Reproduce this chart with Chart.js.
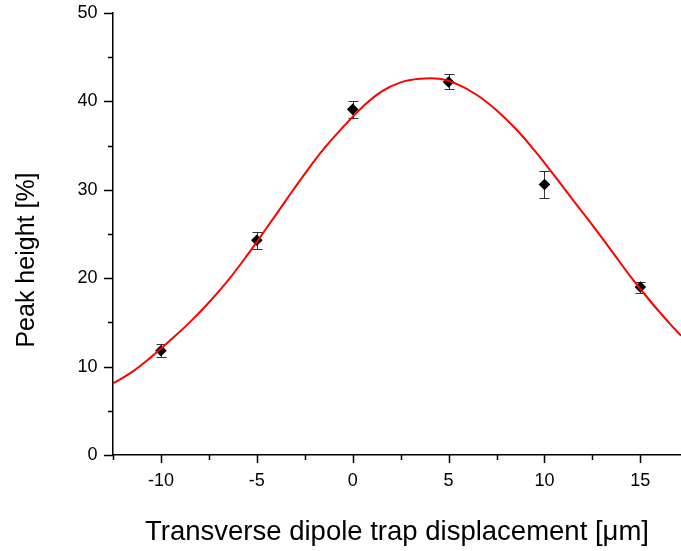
<!DOCTYPE html>
<html>
<head>
<meta charset="utf-8">
<script src="https://cdn.jsdelivr.net/npm/chart.js@4.4.1/dist/chart.umd.min.js"></script>
<style>
  html, body { margin: 0; padding: 0; background: #ffffff; }
  #wrap { position: relative; width: 681px; height: 551px; overflow: hidden; }
</style>
</head>
<body>
<div id="wrap"><canvas id="c"></canvas></div>
<script>
// Measured data points (displacement in µm, peak height in %)
const displacements = [-10, -5, 0, 5, 10, 15];
const peakHeights   = [11.8, 24.3, 39.1, 42.2, 30.6, 19.0];
const peakErrors    = [0.75, 0.95, 0.93, 0.85, 1.5, 0.62];

// Fitted curve at regular displacements
const fitX = [-12.5, -11.5, -10.5, -9.5, -8.5, -7.5, -6.5, -5.5, -4.5, -3.5, -2.5, -1.5, -0.5, 0.5, 1.5, 2.5, 3.5, 4.5, 5.5, 6.5, 7.5, 8.5, 9.5, 10.5, 11.5, 12.5, 13.5, 14.5, 15.5, 16.5, 17.12];
const fitY = [8.1, 9.4, 11.1, 13.0, 15.0, 17.25, 19.75, 22.6, 25.65, 28.75, 31.8, 34.65, 37.1, 39.35, 41.1, 42.15, 42.55, 42.55, 41.9, 40.7, 39.0, 36.9, 34.4, 31.65, 28.8, 26.0, 23.1, 20.15, 17.45, 14.95, 13.5];

// Tick labels
const xTickLabels = [-10, -5, 0, 5, 10, 15];
const yTickLabels = [0, 10, 20, 30, 40, 50];

const xTitle = 'Transverse dipole trap displacement [\u03bcm]';
const yTitle = 'Peak height [%]';

const FONT = "'Liberation Sans', Arial, Helvetica, sans-serif";

const scatterData = displacements.map((x, i) => ({ x: x, y: peakHeights[i], e: peakErrors[i] }));
const fitData = fitX.map((x, i) => ({ x: x, y: fitY[i] }));

const near = (v, arr) => arr.some(a => Math.abs(a - v) < 1e-6);
const isStep = (v, s) => Math.abs(v / s - Math.round(v / s)) < 1e-6;

const errorBars = {
  id: 'errorBars',
  beforeDatasetsDraw(chart) {
    const ctx = chart.ctx, xs = chart.scales.x, ys = chart.scales.y;
    ctx.save();
    ctx.strokeStyle = '#333333';
    ctx.lineWidth = 1;
    scatterData.forEach(p => {
      const px = Math.round(xs.getPixelForValue(p.x)) + 0.5;
      const top = Math.round(ys.getPixelForValue(p.y + p.e)) + 0.5;
      const bot = Math.round(ys.getPixelForValue(p.y - p.e)) + 0.5;
      ctx.beginPath();
      ctx.moveTo(px, top); ctx.lineTo(px, bot);
      ctx.moveTo(px - 5, top); ctx.lineTo(px + 5, top);
      ctx.moveTo(px - 5, bot); ctx.lineTo(px + 5, bot);
      ctx.stroke();
    });
    ctx.restore();
  }
};

const tickMarks = {
  id: 'tickMarks',
  afterDraw(chart) {
    const ctx = chart.ctx, xs = chart.scales.x, ys = chart.scales.y;
    const area = chart.chartArea;
    ctx.save();
    ctx.strokeStyle = '#000000';
    ctx.lineWidth = 1.5;
    ctx.beginPath();
    xs.ticks.forEach(t => {
      if (!isStep(t.value, 2.5)) return;
      const px = Math.round(xs.getPixelForValue(t.value)) + 0.5;
      const len = near(t.value, xTickLabels) ? 8 : 5;
      ctx.moveTo(px, area.bottom); ctx.lineTo(px, area.bottom + len);
    });
    ys.ticks.forEach(t => {
      if (!isStep(t.value, 5)) return;
      const py = Math.round(ys.getPixelForValue(t.value)) + 0.5;
      const len = near(t.value, yTickLabels) ? 9 : 5;
      ctx.moveTo(area.left, py); ctx.lineTo(area.left - len, py);
    });
    ctx.stroke();
    // y axis title
    ctx.fillStyle = '#000000';
    ctx.font = '25px ' + FONT;
    ctx.textAlign = 'center';
    ctx.textBaseline = 'alphabetic';
    ctx.translate(34, 260);
    ctx.rotate(-Math.PI / 2);
    ctx.fillText(yTitle, 0, 0);
    ctx.restore();
  }
};

new Chart(document.getElementById('c'), {
  type: 'scatter',
  data: {
    datasets: [
      {
        type: 'line',
        label: 'fit',
        data: fitData,
        borderColor: '#ff0000',
        borderWidth: 2,
        pointRadius: 0,
        pointHoverRadius: 0,
        fill: false,
        tension: 0.4,
        showLine: true
      },
      {
        label: 'data',
        data: scatterData,
        pointStyle: 'rectRot',
        pointRadius: 5.8,
        pointHoverRadius: 5.8,
        pointBackgroundColor: '#000000',
        pointBorderColor: '#000000',
        pointBorderWidth: 0,
        showLine: false
      }
    ]
  },
  options: {
    responsive: true,
    maintainAspectRatio: false,
    animation: false,
    events: [],
    layout: { autoPadding: false, padding: { top: 13, right: 0, bottom: 0, left: 0 } },
    plugins: {
      legend: { display: false },
      tooltip: { enabled: false }
    },
    scales: {
      x: {
        type: 'linear',
        min: -12.5,
        max: 17.12,
        grid: { display: false, drawTicks: false },
        border: { display: true, color: '#000000', width: 1.5 },
        ticks: {
          stepSize: 2.5,
          includeBounds: false,
          padding: 15,
          maxRotation: 0,
          autoSkip: false,
          color: '#000000',
          font: { family: FONT, size: 18 },
          callback: (v) => near(v, xTickLabels) ? String(Math.round(v)) : ''
        },
        title: {
          display: true,
          text: xTitle,
          color: '#000000',
          font: { family: FONT, size: 27.5 },
          padding: { top: 0, bottom: 2 }
        },
        afterFit: (s) => { s.height = 96; s.paddingLeft = 0; s.paddingRight = 0; }
      },
      y: {
        type: 'linear',
        min: 0,
        max: 50,
        grid: { display: false, drawTicks: false },
        border: { display: true, color: '#000000', width: 1.5 },
        ticks: {
          stepSize: 5,
          includeBounds: false,
          padding: 15.5,
          autoSkip: false,
          color: '#000000',
          font: { family: FONT, size: 18 },
          callback: (v) => near(v, yTickLabels) ? String(Math.round(v)) : ''
        },
        afterFit: (s) => { s.width = 113; s.paddingTop = 0; s.paddingBottom = 0; }
      }
    }
  },
  plugins: [errorBars, tickMarks]
});
</script>
</body>
</html>
